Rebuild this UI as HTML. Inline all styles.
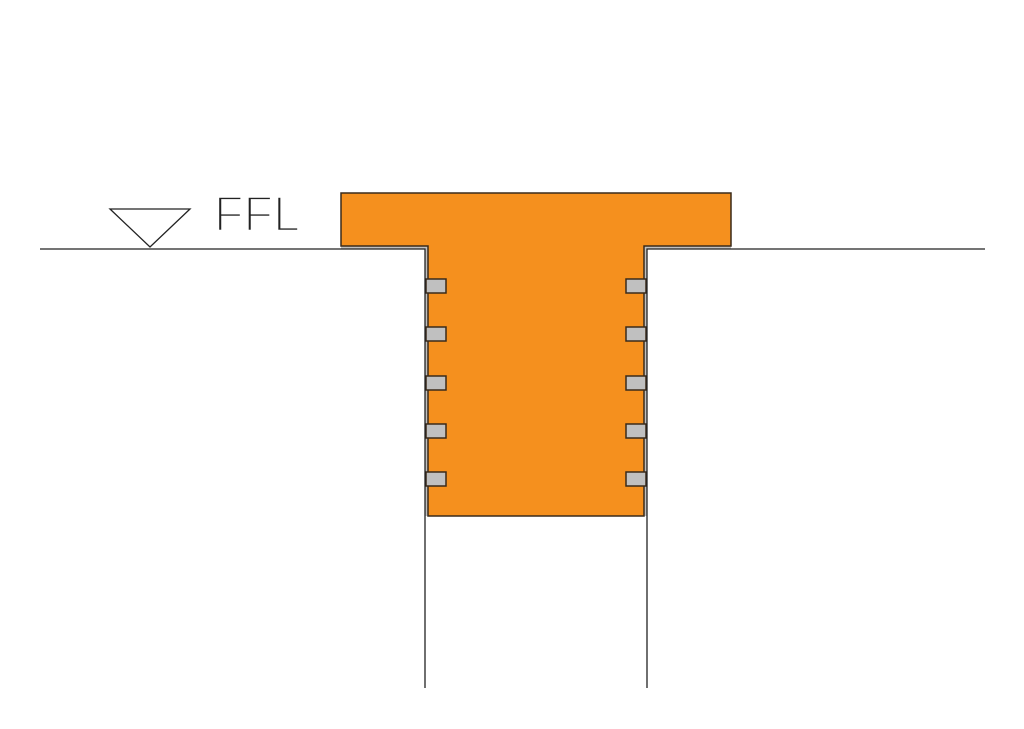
<!DOCTYPE html>
<html><head><style>body{margin:0;background:#fff}</style></head><body>
<svg width="1024" height="724" xmlns="http://www.w3.org/2000/svg">
<rect width="1024" height="724" fill="#fff"/>
<!-- gray liner -->
<path d="M341,246 L428,246 L428,516 L644,516 L644,246 L731,246 L731,249 L647,249 L647,516 L425,516 L425,249 L341,249 Z" fill="#c0c0c0"/>
<!-- orange body -->
<path d="M341,193 L731,193 L731,246 L644,246 L644,516 L428,516 L428,246 L341,246 Z" fill="#f5901e" stroke="#3a2a1a" stroke-width="1.5"/>
<g fill="#c0c0c0" stroke="#3a2a1a" stroke-width="1.5">
<rect x="426" y="279" width="20" height="14"/><rect x="426" y="327" width="20" height="14"/><rect x="426" y="376" width="20" height="14"/><rect x="426" y="424" width="20" height="14"/><rect x="426" y="472" width="20" height="14"/>
<rect x="626" y="279" width="20" height="14"/><rect x="626" y="327" width="20" height="14"/><rect x="626" y="376" width="20" height="14"/><rect x="626" y="424" width="20" height="14"/><rect x="626" y="472" width="20" height="14"/>
</g>
<g stroke="#222" stroke-width="1.3" fill="none">
<path d="M40,249 L425,249 L425,688"/>
<path d="M985,249 L647,249 L647,688"/>
<path d="M110,209 L190,209 L150,247 Z"/>
</g>
<text x="214" y="231" font-family="Liberation Sans, sans-serif" font-size="50" font-weight="100" fill="#222" textLength="86" lengthAdjust="spacingAndGlyphs" style="stroke:#fff;stroke-width:2.5;paint-order:normal">FFL</text>
</svg>
</body></html>
